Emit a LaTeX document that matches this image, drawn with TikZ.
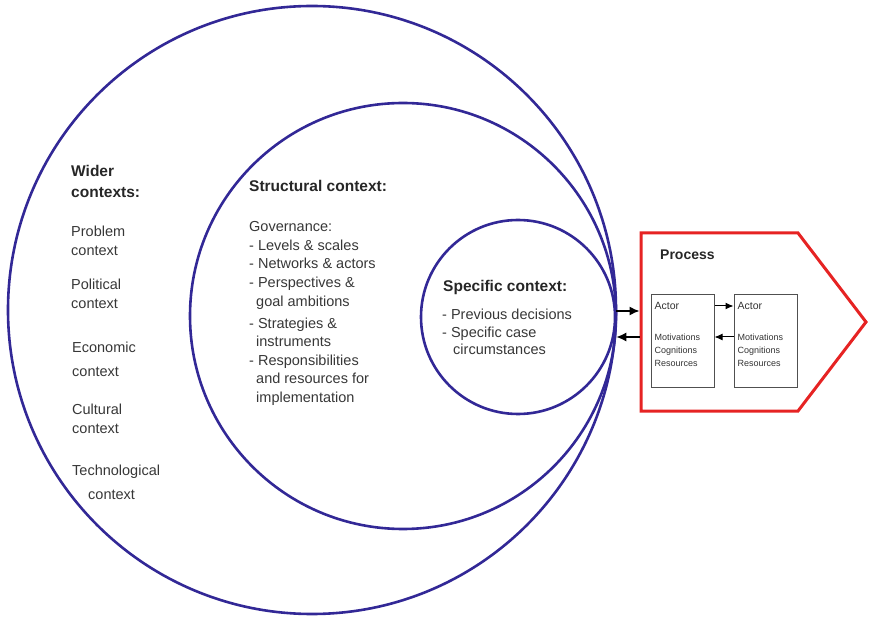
\documentclass[tikz,border=0pt]{standalone}
\usepackage{fontspec}
\setmainfont{Liberation Sans}
\usetikzlibrary{positioning, arrows.meta}

\definecolor{ctxblue}{RGB}{50,40,150}
\definecolor{procred}{RGB}{230,35,35}
\definecolor{txtgray}{RGB}{55,55,55}
\definecolor{boxgray}{RGB}{80,80,80}

\tikzset{
    ctx/.style={draw=ctxblue, line width=2.6pt, circle, inner sep=0pt},
    ctxtitle/.style={font=\fontsize{15.5}{21}\selectfont\bfseries, text=black!85, anchor=base west, align=left, inner sep=0pt},
    ctxtext/.style={font=\fontsize{14.5}{19}\selectfont, text=txtgray, anchor=base west, align=left, inner sep=0pt},
    actorbox/.style={draw=boxgray, line width=1pt, minimum width=63pt, minimum height=93pt, inner sep=0pt},
    actortitle/.style={font=\fontsize{10.5}{13}\selectfont, text=black!80, anchor=north west, inner sep=0pt},
    actortext/.style={font=\fontsize{9}{13}\selectfont, text=black!80, align=left, anchor=north west, inner sep=0pt},
    link/.style={-{Latex[length=10pt, width=9pt]}, line width=1.4pt},
    actorlink/.style={-{Latex[length=8pt, width=7pt]}, line width=1pt}
}

\begin{document}
\begin{tikzpicture}[x=1pt, y=-1pt]
    \useasboundingbox (0, 0) rectangle (870, 617);

    % nested contexts
    \node (wide) [ctx, minimum size=608pt] at (312, 310) {};
    \node (struct) [ctx, minimum size=426pt] at (403, 316) {};
    \node (spec) [ctx, minimum size=194pt] at (518, 317) {};

    % wider contexts (base = last line)
    \node (widetitle) [ctxtitle] at (71, 198) {Wider\\contexts:};
    \node (problem) [ctxtext] at (71, 256) {Problem\\context};
    \node (political) [ctxtext] at (71, 309) {Political\\context};
    \node (economic) [ctxtext] at (72, 377) {Economic\\[5pt]context};
    \node (cultural) [ctxtext] at (72, 433) {Cultural\\context};
    \node (techno) [ctxtext] at (72, 499) {Technological\\[5pt]\hspace{16pt}context};

    % structural context
    \node (structtitle) [ctxtitle] at (249, 192) {Structural context:};
    \node (structtext) [ctxtext, font=\fontsize{14.5}{18.5}\selectfont] at (249, 402.5) {Governance:\\- Levels \& scales\\- Networks \& actors\\- Perspectives \&\\\hspace{7pt}goal ambitions\\[4pt]- Strategies \&\\\hspace{7pt}instruments\\- Responsibilities\\\hspace{7pt}and resources for\\\hspace{7pt}implementation};

    % specific context
    \node (spectitle) [ctxtitle] at (443, 292) {Specific context:};
    \node (spectext) [ctxtext, font=\fontsize{14.5}{17.5}\selectfont] at (442, 355) {- Previous decisions\\- Specific case\\\hspace{11pt}circumstances};

    % process
    \draw [procred, line width=3pt] (641, 233) -- (798, 233) -- (866, 322) -- (798, 411) -- (641, 411) -- cycle;
    \coordinate (procwest) at (639.5, 322);
    \node (proctitle) [ctxtitle, font=\fontsize{14}{18}\selectfont\bfseries] at (660, 260) {Process};

    \node (act1) [actorbox] at (682.5, 341.5) {};
    \node (act2) [actorbox, right=19pt of act1] {};
    \node (act1title) [actortitle, below right=7.5pt and 4pt of act1.north west] {Actor};
    \node (act1text) [actortext, below right=39.5pt and 4pt of act1.north west] {Motivations\\Cognitions\\Resources};
    \node (act2title) [actortitle, below right=7.5pt and 4pt of act2.north west] {Actor};
    \node (act2text) [actortext, below right=39.5pt and 4pt of act2.north west] {Motivations\\Cognitions\\Resources};

    \draw [link] ([yshift=6pt]spec.east) -- ([yshift=6pt]spec.east -| procwest);
    \draw [link] ([yshift=-20pt]spec.east -| procwest) -- ([yshift=-20pt]spec.east);
    \draw [actorlink] ([yshift=35.5pt]act1.east) -- ([yshift=35.5pt]act2.west);
    \draw [actorlink] ([yshift=4.5pt]act2.west) -- ([yshift=4.5pt]act1.east);
\end{tikzpicture}
\end{document}
